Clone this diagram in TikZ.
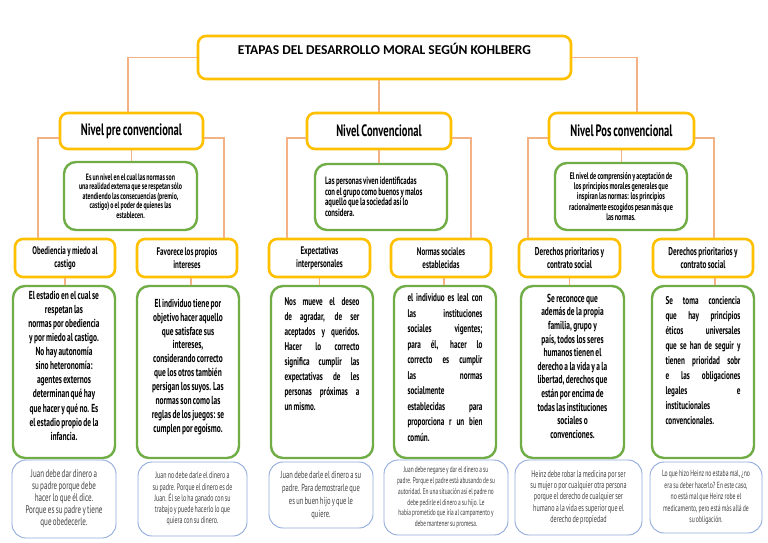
\documentclass[tikz,border=0pt]{standalone}
\usepackage{fontspec}
\setmainfont{Carlito}
\newfontfamily\cond[FakeStretch=0.64,WordSpace=0.75]{PT Sans}
\usetikzlibrary{calc}
\definecolor{gold}{HTML}{FFC000}
\definecolor{grn}{HTML}{70AD47}
\definecolor{blu}{HTML}{8FAADC}
\definecolor{conn}{HTML}{F4B183}
\definecolor{btxt}{HTML}{404040}
\begin{document}
\begin{tikzpicture}[x=1pt,y=-1pt,
  goldbox/.style={draw=gold, line width=2.6pt, rounded corners=8pt, fill=white, inner sep=0pt, align=center},
  greenbox/.style={draw=grn, line width=2.4pt, rounded corners=12pt, fill=white, inner sep=0pt, align=center},
  bluebox/.style={draw=blu, line width=0.9pt, rounded corners=14pt, fill=white, inner sep=0pt, align=center, text=btxt},
  link/.style={draw=conn, line width=1.1pt},
  lvltext/.style={font=\cond\bfseries\fontsize{16.5}{18}\selectfont},
  subtext/.style={font=\cond\bfseries\fontsize{11}{13}\selectfont},
  subtextb/.style={font=\cond\bfseries\fontsize{11.3}{13}\selectfont},
  gtext/.style={inner sep=0pt, anchor=north, text width=86pt, align=flush center},
  gjust/.style={inner sep=0pt, anchor=north, text width=75pt, align=justify},
]
\useasboundingbox (0,0) rectangle (768,543);
\fill[white] (0,0) rectangle (768,543);

% title
\node[goldbox, minimum width=373pt, minimum height=43pt] (title) at (384.5,57.5) {};
\node[anchor=base, inner sep=0pt, font=\bfseries\fontsize{13.5}{15}\selectfont] (tt) at ([yshift=-19.5pt]title.north) {ETAPAS DEL DESARROLLO MORAL SEGÚN KOHLBERG};

% levels
\node[goldbox, lvltext, minimum width=143pt, minimum height=36pt] (l1) at (131.5,131) {Nivel pre convencional};
\node[goldbox, lvltext, minimum width=144pt, minimum height=36pt] (l2) at (379,131) {Nivel Convencional};
\node[goldbox, lvltext, minimum width=145pt, minimum height=36pt] (l3) at (621.5,131) {Nivel Pos convencional};

% descriptions
\node[greenbox, minimum width=133pt, minimum height=68pt, font=\cond\bfseries\fontsize{9.2}{9.4}\selectfont] (d1) at (130.5,196) {Es un nivel en el cual las normas son\\una realidad externa que se respetan sólo\\atendiendo las consecuencias (premio,\\castigo) o el poder de quienes las\\establecen.};
\node[greenbox, minimum width=132pt, minimum height=66pt, text width=112pt, align=flush left, font=\cond\bfseries\fontsize{10.6}{10.5}\selectfont] (d2) at (381,197) {Las personas viven identificadas\\con el grupo como buenos y malos\\aquello que la sociedad así lo\\considera.};
\node[greenbox, minimum width=132pt, minimum height=67pt, font=\cond\bfseries\fontsize{9.6}{10.2}\selectfont] (d3) at (621,196.5) {El nivel de comprensión y aceptación de\\los principios morales generales que\\inspiran las normas: los principios\\racionalmente escogidos pesan más que\\las normas.};

% sub levels
\node[goldbox, subtext, minimum width=100pt, minimum height=38pt] (s1) at (65,258) {Obediencia y miedo al\\castigo};
\node[goldbox, subtext, minimum width=100pt, minimum height=38pt] (s2) at (187,258) {Favorece los propios\\intereses};
\node[goldbox, subtext, minimum width=101pt, minimum height=38pt] (s3) at (319.5,258) {Expectativas\\interpersonales};
\node[goldbox, subtext, minimum width=100pt, minimum height=38pt] (s4) at (441,258) {Normas sociales\\establecidas};
\node[goldbox, subtextb, minimum width=101pt, minimum height=38pt] (s5) at (569.5,258) {Derechos prioritarios y\\contrato social};
\node[goldbox, subtextb, minimum width=100pt, minimum height=38pt] (s6) at (703,258) {Derechos prioritarios y\\contrato social};

% green boxes
\node[greenbox, minimum width=102pt, minimum height=172pt] (g1) at (64,372) {};
\node[greenbox, minimum width=102pt, minimum height=172pt] (g2) at (188,372) {};
\node[greenbox, minimum width=102pt, minimum height=172pt] (g3) at (322,372) {};
\node[greenbox, minimum width=102pt, minimum height=172pt] (g4) at (445,372) {};
\node[greenbox, minimum width=103pt, minimum height=172pt] (g5) at (572.5,372) {};
\node[greenbox, minimum width=102pt, minimum height=172pt] (g6) at (703,372) {};

\node[gtext, font=\cond\bfseries\fontsize{11.6}{14.1}\selectfont] (g1t) at ([yshift=-6pt]g1.north) {El estadio en el cual se\\respetan las\\normas por obediencia\\y por miedo al castigo.\\No hay autonomía\\sino heteronomía:\\agentes externos\\determinan qué hay\\que hacer y qué no. Es\\el estadio propio de la\\infancia.};
\node[gtext, font=\cond\bfseries\fontsize{11.6}{13.9}\selectfont] (g2t) at ([yshift=-14pt]g2.north) {El individuo tiene por\\objetivo hacer aquello\\que satisface sus\\intereses,\\considerando correcto\\que los otros también\\persigan los suyos. Las\\normas son como las\\reglas de los juegos: se\\cumplen por egoísmo.};
\node[gjust, font=\cond\bfseries\fontsize{11.2}{15}\selectfont] (g3t) at ([yshift=-13pt]g3.north) {Nos mueve el deseo\linebreak de agradar, de ser\linebreak aceptados y queridos.\linebreak Hacer lo correcto\linebreak significa cumplir las\linebreak expectativas de les\linebreak personas próximas a\linebreak un mismo.};
\node[gjust, font=\cond\bfseries\fontsize{11.2}{15.5}\selectfont] (g4t) at ([yshift=-9pt]g4.north) {el individuo es leal con\linebreak las instituciones\linebreak sociales vigentes;\linebreak para él, hacer lo\linebreak correcto es cumplir\linebreak las normas\linebreak socialmente\newline establecidas para\linebreak proporciona r un bien\linebreak común.};
\node[gtext, font=\cond\bfseries\fontsize{11.6}{13.6}\selectfont] (g5t) at ([yshift=-9pt]g5.north) {Se reconoce que\\además de la propia\\familia, grupo y\\país, todos los seres\\humanos tienen el\\derecho a la vida y a la\\libertad, derechos que\\están por encima de\\todas las instituciones\\sociales o\\convenciones.};
\node[gjust, font=\cond\bfseries\fontsize{11.2}{15}\selectfont] (g6t) at ([yshift=-11pt]g6.north) {Se toma conciencia\linebreak que hay principios\linebreak éticos universales\linebreak que se han de seguir y\linebreak tienen prioridad sobr\linebreak e las obligaciones\linebreak legales e\linebreak institucionales\newline convencionales.};

% bottom boxes
\node[bluebox, minimum width=104pt, minimum height=78pt, font=\cond\fontsize{11}{12}\selectfont] (b1) at (64,499) {Juan debe dar dinero a\\su padre porque debe\\hacer lo que él dice.\\Porque es su padre y tiene\\que obedecerle.};
\node[bluebox, minimum width=109pt, minimum height=74pt, font=\cond\fontsize{9.3}{11.3}\selectfont] (b2) at (192.5,499) {Juan no debe darle el dinero a\\su padre. Porque el dinero es de\\Juan. Él se lo ha ganado con su\\trabajo y puede hacerlo lo que\\quiera con su dinero.};
\node[bluebox, minimum width=104pt, minimum height=66pt, font=\cond\fontsize{10.2}{13}\selectfont] (b3) at (321,495) {Juan debe darle el dinero a su\\padre. Para demostrarle que\\es un buen hijo y que le\\quiere.};
\node[bluebox, minimum width=124pt, minimum height=75pt, font=\cond\fontsize{8.4}{10.8}\selectfont] (b4) at (446,497.5) {Juan debe negarse y dar el dinero a su\\padre. Porque el padre está abusando de su\\autoridad. En una situación así el padre no\\debe pedirle el dinero a su hijo. Le\\había prometido que iría al campamento y\\debe mantener su promesa.};
\node[bluebox, minimum width=127pt, minimum height=75pt, font=\cond\fontsize{9.6}{11.3}\selectfont] (b5) at (578.5,497.5) {Heinz debe robar la medicina por ser\\su mujer o por cualquier otra persona\\porque el derecho de cualquier ser\\humano a la vida es superior que el\\derecho de propiedad};
\node[bluebox, minimum width=112pt, minimum height=71pt, font=\cond\fontsize{8.9}{11.4}\selectfont] (b6) at (706,497.5) {Lo que hizo Heinz no estaba mal, ¿no\\era su deber hacerlo? En este caso,\\no está mal que Heinz robe el\\medicamento, pero está más allá de\\su obligación.};

% connectors
\draw[link] (title.west) -| ([xshift=-3.5pt]l1.north);
\draw[link] (title.south -| l2.north) -- (l2.north);
\draw[link] (title.east) -| ([xshift=15.5pt]l3.north);
\draw[link] (l1.south) -- (l1.south |- d1.north);
\draw[link] (l2.south) -- (l2.south |- d2.north);
\draw[link] (l3.south) -- (l3.south |- d3.north);
\draw[link] ([yshift=-7pt]l1.west) -| ([xshift=-27pt]s1.north);
\draw[link] ([yshift=-7pt]l1.east) -| ([xshift=37pt]s2.north);
\draw[link] ([yshift=-7pt]l2.west) -| ([xshift=-32.5pt]s3.north);
\draw[link] ([yshift=-7pt]l2.east) -| ([xshift=30pt]s4.north);
\draw[link] ([yshift=-7pt]l3.west) -| ([xshift=-41.5pt]s5.north);
\draw[link] ([yshift=-7pt]l3.east) -| ([xshift=11pt]s6.north);
\draw[link] (s1.south) -- (s1.south |- g1.north);
\draw[link] ([xshift=4pt]s2.south) -- ([xshift=4pt]s2.south |- g2.north);
\draw[link] (s3.south) -- (s3.south |- g3.north);
\draw[link] ([xshift=3pt]s4.south) -- ([xshift=3pt]s4.south |- g4.north);
\draw[link] (s5.south) -- (s5.south |- g5.north);
\draw[link] ([xshift=12pt]s6.south) -- ([xshift=12pt]s6.south |- g6.north);
\end{tikzpicture}
\end{document}
